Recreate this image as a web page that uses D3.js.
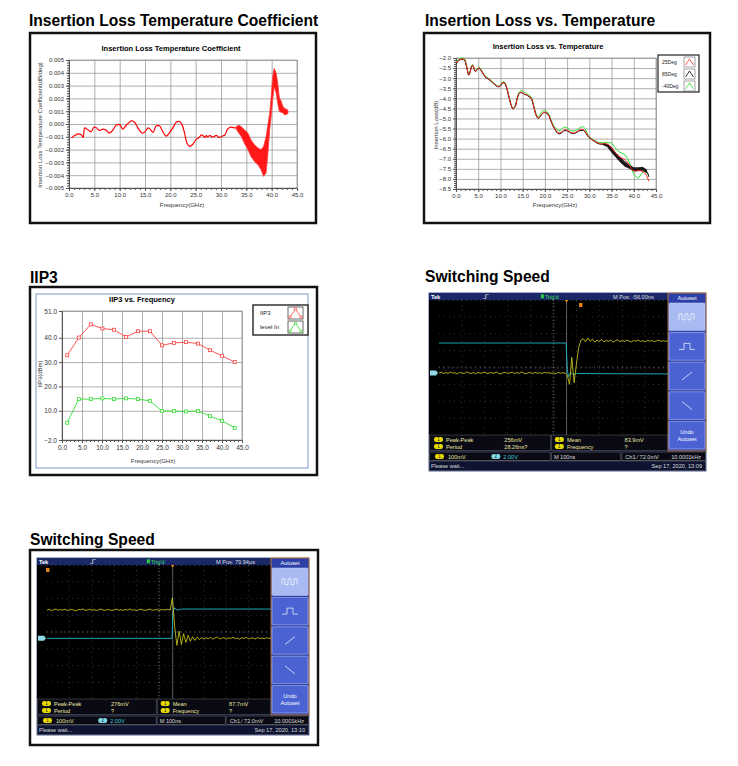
<!DOCTYPE html>
<html>
<head>
<meta charset="utf-8">
<script src="https://d3js.org/d3.v7.min.js"></script>
<style>
  body { margin: 0; background: #fff; }
  svg text { font-family: "Liberation Sans", Arial, sans-serif; }
  .hdr { font-family: "Liberation Sans Narrow", "Arial Narrow", "Liberation Sans", sans-serif; font-weight: bold; font-size: 15.6px; fill: #000; }
  .axis .tick text { font-size: 6px; fill: #333; }
  .axis .domain, .axis line { stroke: #555; }
  .grid line { stroke: #8c8c8c; stroke-width: 0.7; }
  .grid .domain { stroke: none; }
</style>
</head>
<body>
<svg id="page" width="738" height="766"></svg>
<script>
  // ---------- data ----------
  const freqTicks = [0, 5, 10, 15, 20, 25, 30, 35, 40, 45];

  // insertion loss temperature coefficient (dB/deg), smooth part
  const coefFreq = [0.5, 1.1, 1.8, 2.4, 2.8, 3.1, 3.7, 4.4, 4.9, 5.4, 6.0, 6.7, 7.2, 8.0, 8.7, 9.3, 10.0, 10.6, 11.3, 12.3,
    12.9, 13.6, 14.4, 14.9, 15.6, 16.0, 16.6, 17.2, 17.9, 18.5, 19.2, 19.8, 20.5, 21.2, 21.8, 22.3, 22.8, 23.3, 23.8, 24.4,
    25.1, 25.5, 25.8, 26.1, 26.4, 26.8, 27.1, 27.4, 27.8, 28.2, 28.7, 29.1, 29.5, 30.0, 30.4, 30.7, 31.3, 32.0, 32.7, 33.0];
  const coefVal = [-0.0011, -0.0009, -0.00077, -0.00084, -0.00105, -0.0003, -0.00045, -0.0006, -0.00025, -0.0003,
    -0.0005, -0.0004, -0.00045, -0.0007, -0.00045, -0.0001, -0.00005, -0.0004, -0.0001, 0.00025,
    0.00015, -0.0003, -0.0007, -0.00065, -0.0003, -0.0004, -0.00065, -0.00015, -0.00015, -0.0006,
    -0.00095, -0.0007, -0.0003, 0.00015, 0.0002, -0.00005, -0.0007, -0.0015, -0.00175, -0.0016,
    -0.0012, -0.0011, -0.001, -0.00085, -0.0009, -0.00105, -0.0009, -0.001, -0.00088, -0.00102,
    -0.00097, -0.00088, -0.00104, -0.001, -0.00092, -0.0009, -0.0004, -0.00025, -0.0003, -0.0003];
  // noisy part above 33 GHz: lower / upper envelope
  const coefBandFreq = [33.0, 33.5, 34.0, 34.6, 35.3, 35.9, 36.6, 37.3, 37.9, 38.4, 38.9, 39.2, 39.6, 39.9, 40.2, 40.5,
    40.9, 41.2, 41.5, 41.9, 42.2, 42.5, 43.2];
  const coefBandLo = [-0.0004, -0.0007, -0.00097, -0.0015, -0.002, -0.00253, -0.00292, -0.00318, -0.00357, -0.00409,
    -0.00383, -0.0026, -0.0005, 0.0006, 0.0019, 0.0029, 0.0024, 0.0016, 0.001, 0.0009, 0.0009, 0.0007, 0.0008];
  const coefBandHi = [-0.0002, -0.0001, -0.0002, -0.00045, -0.00071, -0.00123, -0.00162, -0.00188, -0.002, -0.00175,
    -0.001, -0.0002, 0.0008, 0.00214, 0.0037, 0.00435, 0.00396, 0.0032, 0.0021, 0.00175, 0.0014, 0.00123, 0.0011];

  // insertion loss vs temperature (dB)
  const ilFreq = [0.15, 0.5, 1.3, 1.9, 2.2, 2.55, 2.85, 3.15, 3.5, 3.75, 4.1, 4.4, 4.8, 5.25, 5.8, 6.5, 7.3, 8.0, 8.8, 9.5,
    10.0, 10.4, 10.8, 11.25, 11.8, 12.4, 12.8, 13.3, 13.8, 14.25, 14.8, 15.4, 15.9, 16.4, 16.9, 17.4, 18.0, 18.5, 19.05, 19.65,
    20.2, 20.8, 21.4, 21.9, 22.4, 22.9, 23.4, 23.9, 24.5, 25.1, 25.8, 26.6, 27.3, 27.9, 28.7, 29.3, 29.8, 30.5, 31.3, 32.0,
    32.8, 33.5, 34.3, 35.0, 35.8, 36.5, 37.3, 38.0, 38.6, 39.2, 39.7, 40.3, 41.0, 41.8, 42.5, 43.1, 43.4];
  const il25 = [-2.25, -2.12, -2.05, -2.08, -2.25, -2.58, -2.83, -2.71, -2.41, -2.36,
    -2.55, -2.66, -2.55, -2.5, -2.66, -2.91, -3.03, -3.16, -3.32, -3.41,
    -3.37, -3.24, -3.21, -3.37, -3.82, -4.32, -4.51, -4.4, -3.98, -3.74,
    -3.70, -3.79, -3.82, -3.9, -3.98, -4.32, -4.81, -4.98, -4.86, -4.7,
    -4.7, -4.81, -5.14, -5.39, -5.56, -5.69, -5.72, -5.64, -5.56, -5.59,
    -5.69, -5.72, -5.64, -5.56, -5.56, -5.72, -5.89, -6.02, -6.14, -6.22,
    -6.27, -6.25, -6.3, -6.47, -6.68, -6.85, -6.96, -7.04, -7.18, -7.38,
    -7.54, -7.62, -7.57, -7.62, -7.71, -7.95, -8.12];
  const il85 = [-2.27, -2.14, -2.07, -2.1, -2.27, -2.6, -2.85, -2.73, -2.43, -2.38,
    -2.57, -2.68, -2.57, -2.52, -2.68, -2.93, -3.05, -3.18, -3.34, -3.43,
    -3.39, -3.26, -3.23, -3.39, -3.84, -4.34, -4.53, -4.42, -4.0, -3.76,
    -3.72, -3.81, -3.84, -3.92, -4.0, -4.34, -4.83, -5.0, -4.88, -4.72,
    -4.72, -4.83, -5.16, -5.41, -5.6, -5.74, -5.76, -5.68, -5.6, -5.62,
    -5.72, -5.75, -5.67, -5.6, -5.6, -5.75, -5.92, -6.04, -6.16, -6.25,
    -6.28, -6.3, -6.38, -6.55, -6.8, -6.96, -7.15, -7.29, -7.35, -7.42,
    -7.5, -7.56, -7.52, -7.48, -7.55, -7.7, -7.9];
  const ilM40 = [-2.2, -2.07, -2.0, -2.03, -2.2, -2.55, -2.8, -2.68, -2.38, -2.33,
    -2.52, -2.63, -2.52, -2.47, -2.63, -2.88, -3.0, -3.13, -3.3, -3.4,
    -3.35, -3.2, -3.17, -3.35, -3.8, -4.3, -4.5, -4.38, -3.94, -3.68,
    -3.62, -3.7, -3.76, -3.85, -3.93, -4.28, -4.76, -4.92, -4.75, -4.6,
    -4.62, -4.75, -5.08, -5.33, -5.48, -5.58, -5.6, -5.5, -5.42, -5.48,
    -5.6, -5.62, -5.55, -5.45, -5.42, -5.62, -5.85, -6.0, -6.1, -6.18,
    -6.2, -6.18, -6.2, -6.22, -6.45, -6.62, -6.72, -6.8, -7.0, -7.3,
    -7.6, -7.85, -7.95, -7.72, -7.62, -7.75, -7.85];
  // 85 deg trace is noisy above 33 GHz
  const il85BandFreq = [33.0, 34.0, 35.0, 36.0, 37.0, 38.0, 39.0, 40.0, 41.0, 42.0, 43.0];
  const il85BandLo = [-6.32, -6.42, -6.7, -6.95, -7.2, -7.4, -7.5, -7.62, -7.62, -7.6, -7.72];
  const il85BandHi = [-6.22, -6.25, -6.42, -6.7, -6.92, -7.12, -7.3, -7.42, -7.42, -7.4, -7.55];

  // IIP3 vs frequency (dBm)
  const iipFreq = [1.3, 4.2, 7.2, 10.1, 13.0, 16.0, 19.0, 22.0, 25.0, 28.0, 31.0, 34.0, 37.0, 40.0, 43.2];
  const iip3 = [32.8, 40.1, 45.5, 43.8, 43.3, 40.3, 42.7, 42.7, 36.9, 37.9, 38.2, 37.6, 34.9, 32.6, 30.0];
  const levelIn = [5.1, 14.8, 14.8, 15.1, 14.8, 15.1, 14.8, 14.1, 9.9, 9.9, 9.7, 9.9, 7.8, 5.9, 3.0];
  const iipTicks = [51, 40, 30, 20, 10, -2];

  // oscilloscope captures, divisions from screen centre, one sample per 0.1 div (10 ns)
  const sampleStep = 0.1;
  const scope1Yellow = [-0.33, -0.28, -0.36, -0.30, -0.35, -0.27, -0.34, -0.31, -0.38, -0.29,
    -0.33, -0.36, -0.26, -0.32, -0.35, -0.30, -0.37, -0.29, -0.34, -0.31,
    -0.28, -0.36, -0.33, -0.30, -0.35, -0.27, -0.34, -0.38, -0.31, -0.29,
    -0.35, -0.32, -0.28, -0.36, -0.30, -0.34, -0.27, -0.33, -0.37, -0.30,
    -0.32, -0.35, -0.29, -0.34, -0.31, -0.36, -0.28, -0.33, -0.30, -0.35,
    -0.32, -0.37, -0.29, -0.34, -0.31, -0.33,
    -0.45, -1.0, 0.6, -0.9, 0.2, 1.2, 1.62, 1.7, 1.52, 1.75,
    1.55, 1.68, 1.5, 1.62, 1.55, 1.66, 1.52, 1.6, 1.56, 1.63,
    1.5, 1.58, 1.64, 1.53, 1.6, 1.55, 1.62, 1.57, 1.51, 1.6,
    1.56, 1.63, 1.54, 1.59, 1.52, 1.61, 1.56, 1.6, 1.53, 1.58,
    1.62, 1.55, 1.59, 1.54, 1.6];
  const scope1Cyan = [[0, 1.45], [5.55, 1.45], [5.6, -0.1], [5.65, -0.55], [5.75, -0.3], [5.85, -0.42], [6.0, -0.36], [10, -0.38]];
  const scope2Yellow = [1.30, 1.36, 1.27, 1.33, 1.38, 1.29, 1.34, 1.31, 1.37, 1.28,
    1.33, 1.35, 1.30, 1.26, 1.34, 1.32, 1.38, 1.29, 1.31, 1.36,
    1.30, 1.34, 1.28, 1.33, 1.37, 1.31, 1.29, 1.35, 1.32, 1.27,
    1.34, 1.36, 1.30, 1.33, 1.29, 1.35, 1.31, 1.38, 1.30, 1.33,
    1.28, 1.34, 1.36, 1.31, 1.29, 1.33, 1.37, 1.30, 1.32, 1.35,
    1.28, 1.34, 1.31, 1.33, 1.36, 1.30,
    2.05, 0.3, -0.8, 0.05, -0.75, -0.1, -0.62, -0.2, -0.55, -0.28,
    -0.5, -0.3, -0.46, -0.33, -0.42, -0.35, -0.4, -0.32, -0.43, -0.36,
    -0.3, -0.41, -0.37, -0.33, -0.42, -0.35, -0.39, -0.31, -0.4, -0.36,
    -0.43, -0.34, -0.38, -0.32, -0.41, -0.37, -0.35, -0.42, -0.33, -0.39,
    -0.36, -0.4, -0.34, -0.38, -0.36];
  const scope2Cyan = [[0, -0.38], [5.58, -0.38], [5.62, 1.2], [5.7, 1.45], [5.8, 1.3], [6.0, 1.37], [10, 1.37]];

  const svg = d3.select("#page");

  // ---------- section headers ----------
  const headers = [
    { x: 29, y: 26, t: "Insertion Loss Temperature Coefficient" },
    { x: 425, y: 26, t: "Insertion Loss vs. Temperature" },
    { x: 30, y: 283, t: "IIP3" },
    { x: 425, y: 282, t: "Switching Speed" },
    { x: 30, y: 545, t: "Switching Speed" }
  ];
  headers.forEach(h => svg.append("text").attr("class", "hdr").attr("x", h.x).attr("y", h.y).text(h.t));

  function frame(x, y, w, h) {
    svg.append("rect").attr("x", x).attr("y", y).attr("width", w).attr("height", h)
      .attr("fill", "#fff").attr("stroke", "#111").attr("stroke-width", 2.5);
  }

  function plotArea(p) {
    const x = d3.scaleLinear().domain([0, 45]).range([p.left, p.right]);
    const y = d3.scaleLinear().domain(p.yDomain).range([p.bottom, p.top]);
    const w = p.right - p.left, h = p.bottom - p.top;
    const g = svg.append("g");
    g.append("rect").attr("x", p.left).attr("y", p.top).attr("width", w).attr("height", h)
      .attr("fill", "#fff").attr("stroke", "#999").attr("stroke-width", 0.8);
    g.append("g").attr("class", "grid").attr("transform", `translate(0,${p.bottom})`)
      .call(d3.axisBottom(x).tickValues(freqTicks).tickSize(-h).tickFormat(""));
    g.append("g").attr("class", "grid").attr("transform", `translate(${p.left},0)`)
      .call(d3.axisLeft(y).tickValues(p.yTicks).tickSize(-w).tickFormat(""));
    g.append("g").attr("class", "axis").attr("transform", `translate(0,${p.bottom})`)
      .call(d3.axisBottom(x).tickValues(d3.range(0, 45.5, 1)).tickSize(2).tickFormat(""));
    if (p.yMinor) {
      g.append("g").attr("class", "axis").attr("transform", `translate(${p.left},0)`)
        .call(d3.axisLeft(y).tickValues(p.yMinor).tickSize(2).tickFormat(""));
    }
    g.append("g").attr("class", "axis").attr("transform", `translate(0,${p.bottom})`)
      .call(d3.axisBottom(x).tickValues(freqTicks).tickSize(3).tickPadding(2).tickFormat(d3.format(".1f")));
    g.append("g").attr("class", "axis").attr("transform", `translate(${p.left},0)`)
      .call(d3.axisLeft(y).tickValues(p.yTicks).tickSize(3).tickPadding(2).tickFormat(d3.format(p.yFmt)));

    g.append("text").attr("x", p.titleX).attr("y", p.titleY).attr("text-anchor", "middle")
      .attr("font-size", 7.5).attr("font-weight", "bold").text(p.title);
    g.append("text").attr("x", p.xLabelX).attr("y", p.xLabelY).attr("text-anchor", "middle")
      .attr("font-size", 6).attr("fill", "#333").text("Frequency(GHz)");
    g.append("text").attr("transform", `translate(${p.yLabelX},${p.yLabelY}) rotate(-90)`)
      .attr("text-anchor", "middle").attr("font-size", 6).attr("fill", "#333")
      .attr("font-family", p.yLabelFont || null).text(p.yLabel);
    return { g, x, y };
  }

  // ---------- chart 1: insertion loss temperature coefficient ----------
  frame(30, 33, 286, 190);
  const c1 = plotArea({
    left: 69, right: 297, top: 60, bottom: 188,
    yDomain: [-0.005, 0.005], yTicks: d3.range(-0.005, 0.0051, 0.001), yFmt: ".3f",
    yMinor: d3.range(-0.005, 0.0051, 0.0002),
    title: "Insertion Loss Temperature Coefficient", titleX: 171, titleY: 51,
    xLabelX: 182, xLabelY: 207,
    yLabel: "Insertion Loss Temperature Coefficient(dB/deg)", yLabelX: 42, yLabelY: 125
  });
  const coefPts = coefFreq.map((f, i) => [f, coefVal[i]]);
  c1.g.append("path").datum(coefPts)
    .attr("d", d3.line().x(d => c1.x(d[0])).y(d => c1.y(d[1])).curve(d3.curveCatmullRom))
    .attr("fill", "none").attr("stroke", "#ff0000").attr("stroke-width", 1.2);
  const coefBand = coefBandFreq.map((f, i) => [f, coefBandLo[i], coefBandHi[i]]);
  c1.g.append("path").datum(coefBand)
    .attr("d", d3.area().x(d => c1.x(d[0])).y0(d => c1.y(d[1])).y1(d => c1.y(d[2])))
    .attr("fill", "#ff0000").attr("fill-opacity", 0.9).attr("stroke", "#ff4040").attr("stroke-width", 0.8);

  // ---------- chart 2: insertion loss vs temperature ----------
  frame(424, 33, 286, 190);
  const c2 = plotArea({
    left: 456, right: 656, top: 58, bottom: 189,
    yDomain: [-8.5, -2.0], yTicks: d3.range(-8.5, -1.99, 0.5), yFmt: ".1f",
    yMinor: d3.range(-8.5, -1.99, 0.1),
    title: "Insertion Loss vs. Temperature", titleX: 548, titleY: 49,
    xLabelX: 555, xLabelY: 207,
    yLabel: "Insertion Loss(dB)", yLabelX: 438, yLabelY: 125
  });
  const ilLine = d3.line().x(d => c2.x(d[0])).y(d => c2.y(d[1])).curve(d3.curveCatmullRom);
  const ilSeries = [
    { name: "-40Deg", vals: ilM40, color: "#22dd22" },
    { name: "85Deg", vals: il85, color: "#000000" },
    { name: "25Deg", vals: il25, color: "#ff2020" }
  ];
  ilSeries.forEach(s => {
    if (s.name === "85Deg") {
      const band = il85BandFreq.map((f, i) => [f, il85BandLo[i], il85BandHi[i]]);
      c2.g.append("path").datum(band)
        .attr("d", d3.area().x(d => c2.x(d[0])).y0(d => c2.y(d[1])).y1(d => c2.y(d[2])))
        .attr("fill", "#000").attr("fill-opacity", 0.85);
    }
    c2.g.append("path").datum(ilFreq.map((f, i) => [f, s.vals[i]]))
      .attr("d", ilLine).attr("fill", "none").attr("stroke", s.color).attr("stroke-width", 1.0);
  });
  // legend
  const lg2 = svg.append("g").attr("transform", "translate(658,55)");
  lg2.append("rect").attr("width", 41).attr("height", 37).attr("fill", "#fff").attr("stroke", "#222").attr("stroke-width", 1.2);
  [{ t: "25Deg", c: "#ff3030" }, { t: "85Deg", c: "#000" }, { t: "-40Deg", c: "#22dd22" }].forEach((d, i) => {
    const yy = 7 + i * 12;
    lg2.append("text").attr("x", 4).attr("y", yy + 2).attr("font-size", 5).attr("fill", "#222").text(d.t);
    lg2.append("rect").attr("x", 26).attr("y", yy - 5).attr("width", 11).attr("height", 10)
      .attr("fill", "#fff").attr("stroke", "#666").attr("stroke-width", 0.6);
    lg2.append("path").attr("d", `M27.5,${yy + 3}L31.5,${yy - 3}L35.5,${yy + 3}`)
      .attr("fill", "none").attr("stroke", d.c).attr("stroke-width", 0.8);
  });

  // ---------- chart 3: IIP3 ----------
  frame(30, 287, 287, 188);
  svg.append("rect").attr("x", 36).attr("y", 294).attr("width", 272).attr("height", 174)
    .attr("fill", "#fff").attr("stroke", "#7b9cc4").attr("stroke-width", 1);
  const c3 = plotArea({
    left: 62, right: 242, top: 311, bottom: 440,
    yDomain: [-2, 51], yTicks: iipTicks, yFmt: ".1f",
    title: "IIP3 vs. Frequency", titleX: 142, titleY: 302,
    xLabelX: 153, xLabelY: 463,
    yLabel: "IIP3(dBm)", yLabelX: 42, yLabelY: 374, yLabelFont: "Liberation Serif"
  });
  c3.g.selectAll(".axis .tick text").style("font-size", "6.5px");
  const iipSeries = [{ vals: iip3, color: "#ff4040" }, { vals: levelIn, color: "#33dd33" }];
  iipSeries.forEach(s => {
    const pts = iipFreq.map((f, i) => [f, s.vals[i]]);
    c3.g.append("path").datum(pts)
      .attr("d", d3.line().x(d => c3.x(d[0])).y(d => c3.y(d[1])))
      .attr("fill", "none").attr("stroke", s.color).attr("stroke-width", 0.9);
    c3.g.selectAll(null).data(pts).join("rect")
      .attr("x", d => c3.x(d[0]) - 1.5).attr("y", d => c3.y(d[1]) - 1.5)
      .attr("width", 3).attr("height", 3)
      .attr("fill", "#fff").attr("stroke", s.color).attr("stroke-width", 0.8);
  });
  const lg3 = svg.append("g").attr("transform", "translate(253,305)");
  lg3.append("rect").attr("width", 55).attr("height", 30).attr("fill", "#fff").attr("stroke", "#333").attr("stroke-width", 1.5);
  [{ t: "IIP3", c: "#ff4040" }, { t: "level In", c: "#33dd33" }].forEach((d, i) => {
    const yy = 8 + i * 14;
    lg3.append("text").attr("x", 7).attr("y", yy + 2).attr("font-size", 6).attr("font-family", "Liberation Serif")
      .attr("fill", "#222").text(d.t);
    lg3.append("rect").attr("x", 35).attr("y", yy - 6).attr("width", 15).attr("height", 12)
      .attr("fill", "#fff").attr("stroke", "#444").attr("stroke-width", 0.8);
    lg3.append("path").attr("d", `M37,${yy + 4}L42.5,${yy - 4}L48,${yy + 4}`)
      .attr("fill", "none").attr("stroke", d.c).attr("stroke-width", 0.8);
    [[37, yy + 4], [42.5, yy - 4], [48, yy + 4]].forEach(q =>
      lg3.append("rect").attr("x", q[0] - 1).attr("y", q[1] - 1).attr("width", 2).attr("height", 2)
        .attr("fill", "#fff").attr("stroke", d.c).attr("stroke-width", 0.6));
  });

  // ---------- oscilloscope screenshots ----------
  function drawScope(ox, oy, w, h, sc) {
    const g = svg.append("g").attr("transform", `translate(${ox},${oy})`);
    const dx0 = 10, dx1 = w - 38, dy0 = 7, dy1 = h - 36;
    const tx = d3.scaleLinear().domain([0, 10]).range([dx0, dx1]);
    const vy = d3.scaleLinear().domain([-4, 4]).range([dy1, dy0]);
    const txt = (x, y, s, col, anchor) => g.append("text").attr("x", x).attr("y", y).attr("font-size", 5.6)
      .attr("fill", col || "#e8e8e8").attr("text-anchor", anchor || "start").text(s);

    g.append("rect").attr("width", w).attr("height", h).attr("fill", "#0c1236")
      .attr("stroke", "#2a3a7a").attr("stroke-width", 0.8);

    // top bar
    g.append("rect").attr("width", dx1).attr("height", dy0).attr("fill", "#1a2868");
    txt(2, 5.8, "Tek", "#fff").attr("font-weight", "bold");
    const tg = 0.205 * w;
    g.append("path").attr("d", `M${tg - 3},5.5H${tg}V1.5H${tg + 3}M${tg},1.5V5.5`)
      .attr("fill", "none").attr("stroke", "#ccc").attr("stroke-width", 0.6);
    g.append("rect").attr("x", 0.404 * w).attr("y", 1.3).attr("width", 3).attr("height", 4).attr("fill", "#2ecc40");
    txt(0.404 * w + 4, 6, "Trig'd", "#3ee050");
    txt(dx1 - 55, 6, sc.mpos, "#ddd");

    // display
    g.append("rect").attr("x", 0).attr("y", dy0).attr("width", dx1).attr("height", dy1 - dy0).attr("fill", "#000");
    const grid = g.append("g");
    grid.selectAll("line.v").data(d3.range(1, 10)).join("line")
      .attr("x1", d => tx(d)).attr("x2", d => tx(d)).attr("y1", dy0).attr("y2", dy1)
      .attr("stroke", "#777").attr("stroke-width", 0.6).attr("stroke-dasharray", "0.7,4.4");
    grid.selectAll("line.h").data(d3.range(-3, 4)).join("line")
      .attr("x1", dx0).attr("x2", dx1).attr("y1", d => vy(d)).attr("y2", d => vy(d))
      .attr("stroke", "#777").attr("stroke-width", 0.6).attr("stroke-dasharray", "0.7,4.4");
    grid.selectAll("line.tx").data(d3.range(0, 10.01, 0.2)).join("line")
      .attr("x1", d => tx(d)).attr("x2", d => tx(d)).attr("y1", vy(0) - 1.2).attr("y2", vy(0) + 1.2)
      .attr("stroke", "#777").attr("stroke-width", 0.5);
    grid.selectAll("line.ty").data(d3.range(-4, 4.01, 0.2)).join("line")
      .attr("x1", tx(5) - 1.2).attr("x2", tx(5) + 1.2).attr("y1", d => vy(d)).attr("y2", d => vy(d))
      .attr("stroke", "#777").attr("stroke-width", 0.5);
    grid.selectAll("line.top").data(d3.range(0, 10.01, 0.2)).join("line")
      .attr("x1", d => tx(d)).attr("x2", d => tx(d)).attr("y1", dy0).attr("y2", dy0 + 1.2)
      .attr("stroke", "#777").attr("stroke-width", 0.5);

    // trigger position
    g.append("line").attr("x1", tx(sc.trigT)).attr("x2", tx(sc.trigT)).attr("y1", dy0).attr("y2", dy1)
      .attr("stroke", "#9a9a9a").attr("stroke-width", 0.6);
    g.append("path").attr("d", `M${tx(sc.trigT) - 1.8},${dy0}h3.6l-1.8,2.4z`).attr("fill", "#f08a00");
    g.append("rect").attr("x", sc.icon[0]).attr("y", sc.icon[1]).attr("width", 3.5).attr("height", 4)
      .attr("fill", "#e0801a");

    // traces
    const clipId = "clip" + ox;
    g.append("clipPath").attr("id", clipId).append("rect")
      .attr("x", dx0).attr("y", dy0).attr("width", dx1 - dx0).attr("height", dy1 - dy0);
    const line = d3.line().x(d => tx(d[0])).y(d => vy(d[1]));
    g.append("path").datum(sc.cyan).attr("d", line).attr("clip-path", `url(#${clipId})`)
      .attr("fill", "none").attr("stroke", "#22b8c8").attr("stroke-width", 0.9);
    g.append("path").datum(sc.yellow.map((v, i) => [i * sampleStep, v])).attr("d", line)
      .attr("clip-path", `url(#${clipId})`)
      .attr("fill", "none").attr("stroke", "#d8d41c").attr("stroke-width", 0.8);

    // channel marker on the left edge
    const my = vy(sc.marker);
    g.append("path").attr("d", `M1,${my - 2.5}h6l2,2.5l-2,2.5h-6z`).attr("fill", "#8fd8e8");

    // right-hand menu
    const rp = g.append("g").attr("transform", `translate(${dx1},0)`);
    const rw = w - dx1;
    rp.append("rect").attr("width", rw).attr("height", dy1 + 16).attr("fill", "#2b3fa6")
      .attr("stroke", "#d9822b").attr("stroke-width", 0.8);
    rp.append("text").attr("x", rw / 2).attr("y", 6.5).attr("text-anchor", "middle").attr("font-size", 5.6)
      .attr("fill", "#fff").text("Autoset");
    const bh = (dy1 + 16 - 10) / 5;
    const icons = [
      "M-8,3V-3H-5V3H-2V-3H1V3H4V-3H7V3",
      "M-8,3H-3V-3H3V3H8",
      "M-5,4L5,-4",
      "M-5,-4L5,4"
    ];
    d3.range(5).forEach(i => {
      const by = 10 + i * bh;
      rp.append("rect").attr("x", 1).attr("y", by).attr("width", rw - 2).attr("height", bh - 2).attr("rx", 1)
        .attr("fill", i === 0 ? "#a9b9f2" : "#4b62d2").attr("stroke", "#c8d2ff").attr("stroke-width", 0.5);
      if (i < 4) {
        rp.append("path").attr("transform", `translate(${rw / 2},${by + bh / 2 - 1})`).attr("d", icons[i])
          .attr("fill", "none").attr("stroke", "#fff").attr("stroke-width", 0.7);
      } else {
        rp.append("text").attr("x", rw / 2).attr("y", by + bh / 2 - 2).attr("text-anchor", "middle")
          .attr("font-size", 5.6).attr("fill", "#fff").text("Undo");
        rp.append("text").attr("x", rw / 2).attr("y", by + bh / 2 + 5).attr("text-anchor", "middle")
          .attr("font-size", 5.6).attr("fill", "#fff").text("Autoset");
      }
    });

    // measurements
    const split = 0.44 * w;
    const my0 = dy1;
    g.append("rect").attr("x", 0.5).attr("y", my0).attr("width", split - 1).attr("height", 15.5)
      .attr("fill", "#0a0a14").attr("stroke", "#666").attr("stroke-width", 0.5);
    g.append("rect").attr("x", split + 0.5).attr("y", my0).attr("width", dx1 - split - 1).attr("height", 15.5)
      .attr("fill", "#0a0a14").attr("stroke", "#666").attr("stroke-width", 0.5);
    const badge = (x, y, label, col) => {
      g.append("rect").attr("x", x).attr("y", y - 4.5).attr("width", 9).attr("height", 5).attr("rx", 2.2).attr("fill", col);
      g.append("text").attr("x", x + 4.5).attr("y", y - 0.3).attr("text-anchor", "middle").attr("font-size", 4.5)
        .attr("fill", "#222").text(label);
    };
    const meas = [
      [["Peak-Peak", sc.pp], ["Period", sc.period]],
      [["Mean", sc.mean], ["Frequency", "?"]]
    ];
    meas.forEach((col, ci) => {
      const bx = ci === 0 ? 5 : split + 4;
      const vx = ci === 0 ? 0.272 * w : 0.706 * w;
      col.forEach((m, ri) => {
        const yy = my0 + 6.5 + ri * 7;
        badge(bx, yy, "1", "#e6d800");
        txt(bx + 12, yy, m[0], "#eee8a0");
        txt(vx, yy, m[1], "#eee8a0");
      });
    });

    // channel settings bar
    const cy0 = h - 19;
    const segC = 0.694 * w;
    [[0, split], [split, segC], [segC, w]].forEach(s =>
      g.append("rect").attr("x", s[0] + 0.5).attr("y", cy0).attr("width", s[1] - s[0] - 1).attr("height", 8.5)
        .attr("rx", 1).attr("fill", "#0a0a14").attr("stroke", "#777").attr("stroke-width", 0.5));
    badge(6, cy0 + 6.5, "1", "#e6d800");
    txt(19, cy0 + 6.5, "100mV", "#e8e4a0");
    badge(0.225 * w, cy0 + 6.5, "2", "#7fd6e6");
    txt(0.225 * w + 12, cy0 + 6.5, "2.00V", "#38c8d8");
    txt(split + 3, cy0 + 6.5, "M 100ns", "#ddd");
    txt(segC + 4, cy0 + 6.5, "Ch1 \u2044 72.0mV", "#ddd");
    txt(w - 5, cy0 + 6.5, "10.0001kHz", "#ddd", "end");

    // status bar
    g.append("rect").attr("x", 0.5).attr("y", h - 10).attr("width", w - 1).attr("height", 9.5)
      .attr("fill", "#0d1330").attr("stroke", "#777").attr("stroke-width", 0.5);
    txt(2, h - 3.2, "Please wait...", "#ddd");
    txt(w - 4, h - 3.2, sc.date, "#ddd", "end");
  }

  drawScope(429, 293, 277, 178, {
    yellow: scope1Yellow, cyan: scope1Cyan, trigT: 5.57, marker: -0.33,
    mpos: "M Pos: -56.00ns", pp: "256mV", period: "28.26ns?", mean: "83.9mV",
    date: "Sep 17, 2020, 13:09", icon: [150, 10]
  });

  frame(30, 550, 288, 195);
  drawScope(37, 558, 272, 177, {
    yellow: scope2Yellow, cyan: scope2Cyan, trigT: 5.61, marker: -0.38,
    mpos: "M Pos: 79.94\u03bcs", pp: "276mV", period: "?", mean: "87.7mV",
    date: "Sep 17, 2020, 13:10", icon: [9, 10]
  });
</script>
</body>
</html>
